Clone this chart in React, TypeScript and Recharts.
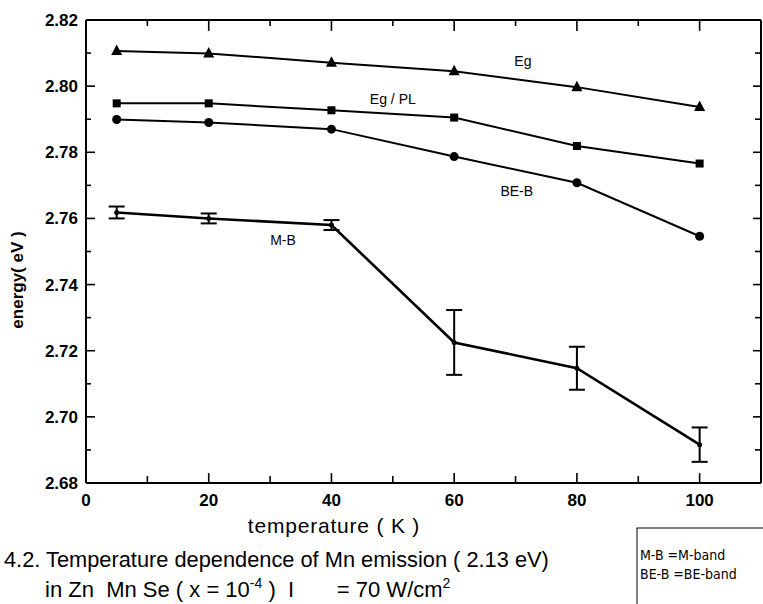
import React from "react";
import {
  LineChart,
  Line,
  XAxis,
  YAxis,
  ErrorBar,
  ReferenceDot,
  ReferenceLine,
} from "recharts";

// temperature (K) of each measurement
const temperatures = [5, 20, 40, 60, 80, 100];

// energies (eV)
const egEnergy = [2.8106, 2.8099, 2.8071, 2.8045, 2.7997, 2.7937];
const egPlEnergy = [2.7948, 2.7948, 2.7927, 2.7905, 2.7819, 2.7766];
const beBandEnergy = [2.7899, 2.789, 2.787, 2.7787, 2.7708, 2.7546];
const mBandEnergy = [2.7618, 2.76, 2.758, 2.7225, 2.7147, 2.6916];
const mBandError = [0.0018, 0.0015, 0.0015, 0.0098, 0.0065, 0.0052];

// majors are labelled, the ones in between are minor marks
const xTicks = [0, 10, 20, 30, 40, 50, 60, 70, 80, 90, 100];
const yTicks = [
  2.68, 2.69, 2.7, 2.71, 2.72, 2.73, 2.74, 2.75, 2.76, 2.77, 2.78, 2.79, 2.8,
  2.81, 2.82,
];

const data = temperatures.map((t, i) => ({
  t,
  eg: egEnergy[i],
  egPl: egPlEnergy[i],
  beB: beBandEnergy[i],
  mB: mBandEnergy[i],
  mBErr: mBandError[i],
}));

const X_DOMAIN: [number, number] = [0, 110];
const Y_DOMAIN: [number, number] = [2.68, 2.82];

const W = 763;
const H = 604;
const MARGIN = { top: 19, right: 1, left: 85, bottom: 120 };

const FONT = "Arial, 'Liberation Sans', sans-serif";
const axisLine = { stroke: "#000", strokeWidth: 2 };

const isMajorX = (v: number) => Math.round(v) % 20 === 0;
const isMajorY = (v: number) => Math.round(v * 100) % 2 === 0;

// inward tick lengths, in axis units (about 0.163 K and 0.0003 eV per pixel)
const xTickLen = (v: number, top: boolean) =>
  isMajorX(v) ? (top ? 0.0033 : 0.003) : top ? 0.0018 : 0.0021;
const yTickLen = (v: number, right: boolean) =>
  isMajorY(v) ? (right ? 1.3 : 1.47) : right ? 0.98 : 0.81;

const tickText = {
  fontSize: 17,
  fontWeight: 700,
  fill: "#000",
  fontFamily: FONT,
};

const BottomLabel = (props: any) => {
  const { x, y, payload } = props;
  const v = payload.value as number;
  if (!isMajorX(v)) return <g />;
  return (
    <text x={x} y={y + 23} textAnchor="middle" {...tickText}>
      {v}
    </text>
  );
};

const LeftLabel = (props: any) => {
  const { x, y, payload } = props;
  const v = payload.value as number;
  if (!isMajorY(v)) return <g />;
  return (
    <text x={x - 8} y={y + 6} textAnchor="end" {...tickText}>
      {v.toFixed(2)}
    </text>
  );
};

const TriangleDot = (props: any) => {
  const { cx, cy } = props;
  if (cx == null || cy == null) return <g />;
  return (
    <path
      d={`M${cx},${cy - 6.5} L${cx + 5.5},${cy + 4} L${cx - 5.5},${cy + 4} Z`}
      fill="#000"
    />
  );
};

const SquareDot = (props: any) => {
  const { cx, cy } = props;
  if (cx == null || cy == null) return <g />;
  return <rect x={cx - 4} y={cy - 4} width={8} height={8} fill="#000" />;
};

const RoundDot = (props: any) => {
  const { cx, cy, r } = props;
  if (cx == null || cy == null) return <g />;
  return <circle cx={cx} cy={cy} r={r} fill="#000" />;
};

const annotationLabel = (value: string) => ({
  value,
  position: "center" as const,
  fill: "#000",
  fontSize: 14,
  fontFamily: FONT,
});

const tickStroke = { stroke: "#000", strokeWidth: 1.6, ifOverflow: "visible" as const };

export default function App() {
  const [yMin, yMax] = Y_DOMAIN;
  const xMax = X_DOMAIN[1];
  return (
    <div
      style={{
        position: "relative",
        width: W,
        height: H,
        overflow: "hidden",
        background: "#fff",
      }}
    >
      <style>{`body{margin:0;background:#fff}`}</style>
      <LineChart width={W} height={H} data={data} margin={MARGIN}>
        <XAxis
          dataKey="t"
          type="number"
          domain={X_DOMAIN}
          allowDataOverflow
          ticks={xTicks}
          interval={0}
          height={1}
          stroke="#000"
          axisLine={axisLine}
          tickLine={false}
          tickSize={0}
          tickMargin={0}
          tick={<BottomLabel />}
        />
        <XAxis
          xAxisId="top"
          orientation="top"
          dataKey="t"
          type="number"
          domain={X_DOMAIN}
          allowDataOverflow
          height={1}
          stroke="#000"
          axisLine={axisLine}
          tickLine={false}
          tick={false}
        />
        <YAxis
          type="number"
          domain={Y_DOMAIN}
          allowDataOverflow
          ticks={yTicks}
          interval={0}
          width={1}
          stroke="#000"
          axisLine={axisLine}
          tickLine={false}
          tickSize={0}
          tickMargin={0}
          tick={<LeftLabel />}
        />
        <YAxis
          yAxisId="right"
          orientation="right"
          type="number"
          domain={Y_DOMAIN}
          allowDataOverflow
          width={1}
          stroke="#000"
          axisLine={axisLine}
          tickLine={false}
          tick={false}
        />

        {/* inward tick marks on all four sides of the frame */}
        {xTicks.filter((v) => v > 0).map((v) => (
          <ReferenceLine
            key={`b${v}`}
            segment={[
              { x: v, y: yMin },
              { x: v, y: yMin + xTickLen(v, false) },
            ]}
            {...tickStroke}
          />
        ))}
        {xTicks.filter((v) => v > 0).map((v) => (
          <ReferenceLine
            key={`t${v}`}
            segment={[
              { x: v, y: yMax },
              { x: v, y: yMax - xTickLen(v, true) },
            ]}
            {...tickStroke}
          />
        ))}
        {yTicks.map((v) => (
          <ReferenceLine
            key={`l${v}`}
            segment={[
              { x: 0, y: v },
              { x: yTickLen(v, false), y: v },
            ]}
            {...tickStroke}
          />
        ))}
        {yTicks.map((v) => (
          <ReferenceLine
            key={`r${v}`}
            segment={[
              { x: xMax, y: v },
              { x: xMax - yTickLen(v, true), y: v },
            ]}
            {...tickStroke}
          />
        ))}

        <Line
          dataKey="eg"
          stroke="#000"
          strokeWidth={2}
          dot={<TriangleDot />}
          isAnimationActive={false}
        />
        <Line
          dataKey="egPl"
          stroke="#000"
          strokeWidth={2}
          dot={<SquareDot />}
          isAnimationActive={false}
        />
        <Line
          dataKey="beB"
          stroke="#000"
          strokeWidth={2}
          dot={<RoundDot r={4.5} />}
          isAnimationActive={false}
        />
        <Line
          dataKey="mB"
          stroke="#000"
          strokeWidth={2.6}
          dot={<RoundDot r={2.5} />}
          isAnimationActive={false}
        >
          <ErrorBar
            dataKey="mBErr"
            direction="y"
            width={8}
            stroke="#000"
            strokeWidth={2}
            isAnimationActive={false}
          />
        </Line>

        <ReferenceDot x={71.2} y={2.8075} r={0} stroke="none" label={annotationLabel("Eg")} />
        <ReferenceDot x={50} y={2.796} r={0} stroke="none" label={annotationLabel("Eg / PL")} />
        <ReferenceDot x={70.2} y={2.7682} r={0} stroke="none" label={annotationLabel("BE-B")} />
        <ReferenceDot x={32.1} y={2.7534} r={0} stroke="none" label={annotationLabel("M-B")} />
      </LineChart>

      <svg
        width={W}
        height={H}
        style={{ position: "absolute", left: 0, top: 0, pointerEvents: "none" }}
        fontFamily={FONT}
      >
        <text
          x={17}
          y={280}
          transform="rotate(-90 17 280)"
          textAnchor="middle"
          dominantBaseline="central"
          fontSize={17}
          fontWeight={700}
        >
          energy( eV )
        </text>
        <text x={334} y={533} textAnchor="middle" fontSize={21} letterSpacing={0.8}>
          temperature ( K )
        </text>
        <text x={4} y={567} fontSize={21.8}>
          4.2. Temperature  dependence of Mn emission ( 2.13 eV)
        </text>
        <text x={45} y={597} fontSize={22} xmlSpace="preserve">
          {"in Zn  Mn Se ( x = 10"}
          <tspan dy={-9} fontSize={14}>-4</tspan>
          <tspan dy={9}>{" )  I       = 70 W/cm"}</tspan>
          <tspan dy={-9} fontSize={14}>2</tspan>
        </text>
        <rect x={637} y={528} width={140} height={100} fill="none" stroke="#000" strokeWidth={1} />
        <text x={640} y={560} fontSize={14} fontFamily="'Liberation Sans Narrow', 'DejaVu Sans Condensed', sans-serif">
          M-B =M-band
        </text>
        <text x={640} y={579} fontSize={14} fontFamily="'Liberation Sans Narrow', 'DejaVu Sans Condensed', sans-serif">
          BE-B =BE-band
        </text>
      </svg>
    </div>
  );
}
